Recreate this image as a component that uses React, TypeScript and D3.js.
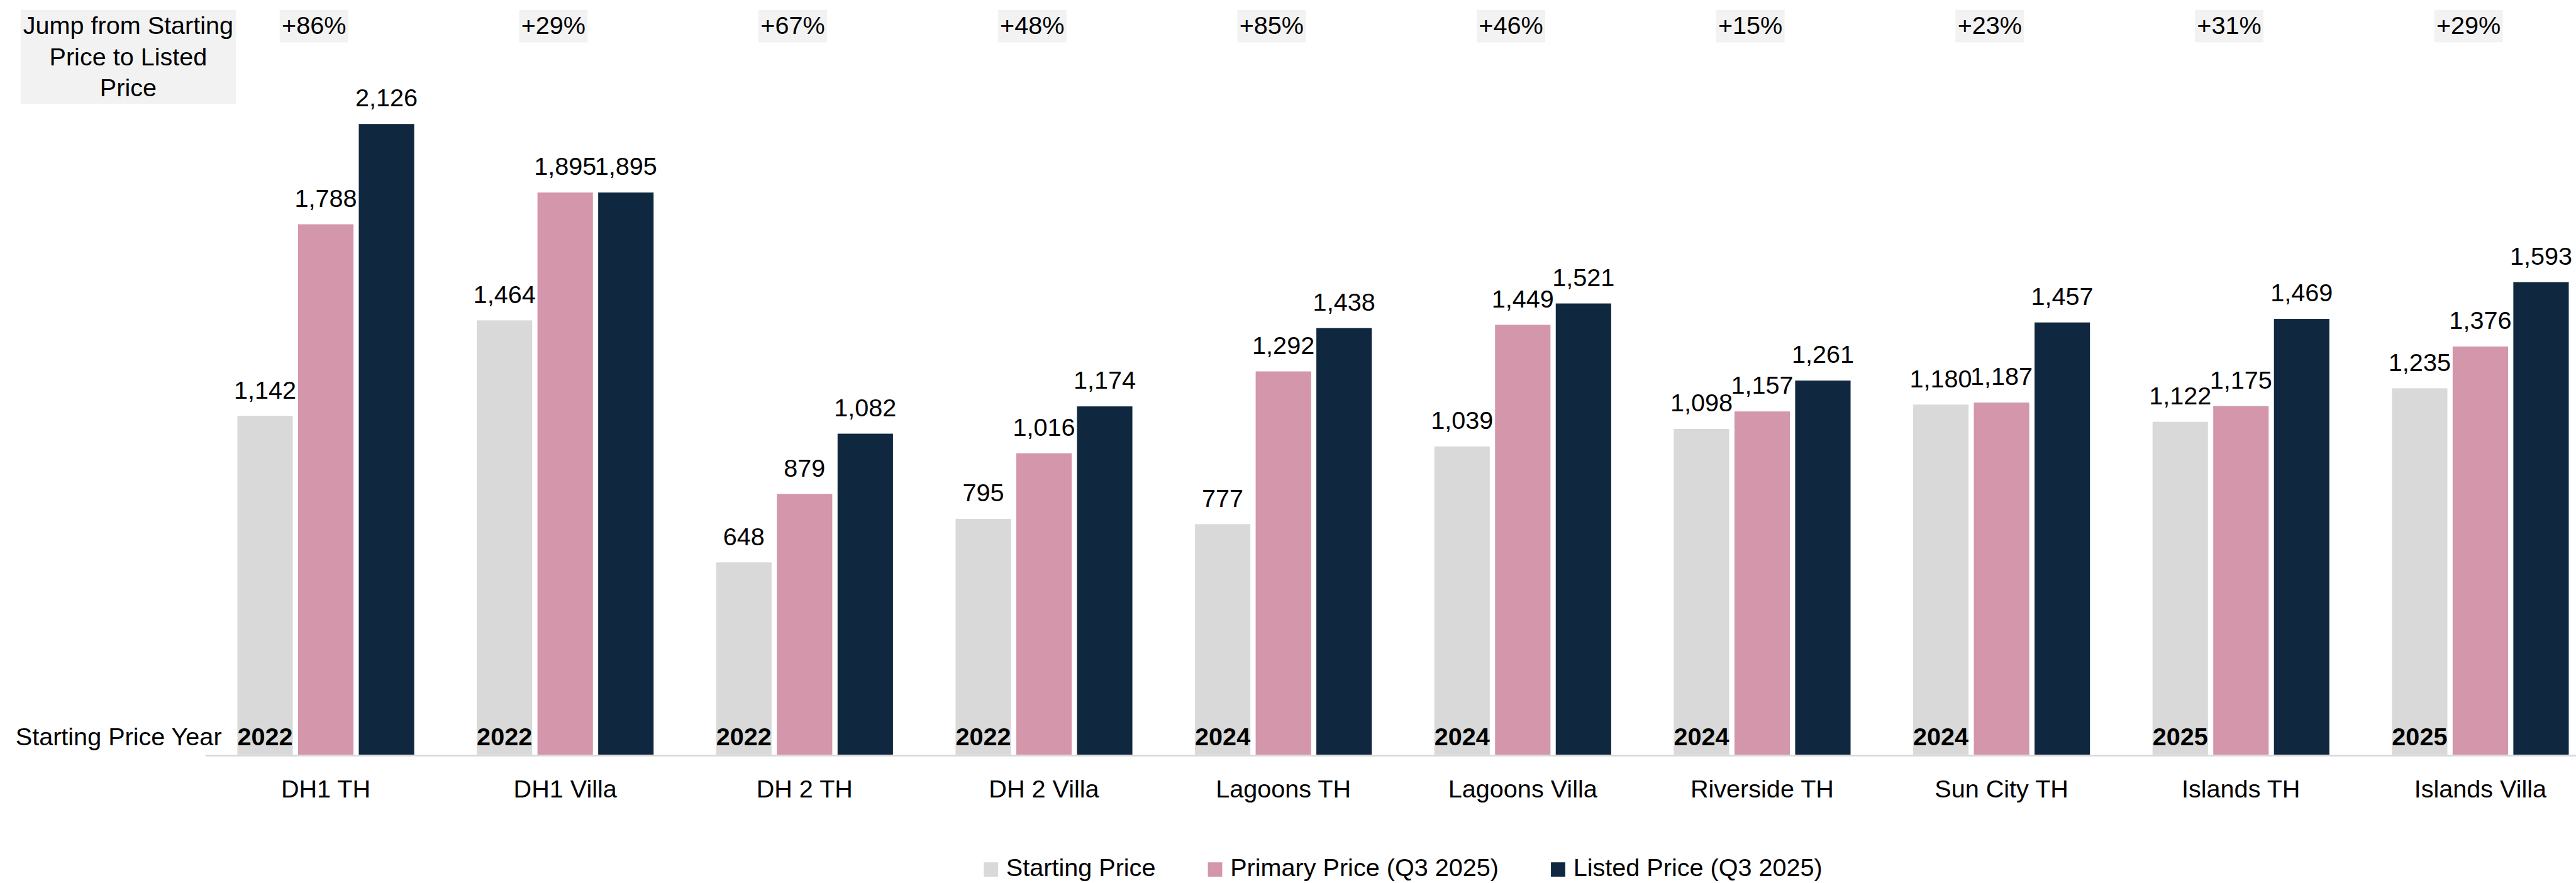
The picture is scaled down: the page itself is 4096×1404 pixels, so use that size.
import React, { useEffect, useRef } from "react";
import * as d3 from "d3";

const categories = [
  "DH1 TH",
  "DH1 Villa",
  "DH 2 TH",
  "DH 2 Villa",
  "Lagoons TH",
  "Lagoons Villa",
  "Riverside TH",
  "Sun City TH",
  "Islands TH",
  "Islands Villa",
];
const startingPrice = [1142, 1464, 648, 795, 777, 1039, 1098, 1180, 1122, 1235];
const primaryPrice = [1788, 1895, 879, 1016, 1292, 1449, 1157, 1187, 1175, 1376];
const listedPrice = [2126, 1895, 1082, 1174, 1438, 1521, 1261, 1457, 1469, 1593];
const startYears = ["2022", "2022", "2022", "2022", "2024", "2024", "2024", "2024", "2025", "2025"];
const jumpLabels = ["+86%", "+29%", "+67%", "+48%", "+85%", "+46%", "+15%", "+23%", "+31%", "+29%"];
const seriesNames = ["Starting Price", "Primary Price (Q3 2025)", "Listed Price (Q3 2025)"];
const seriesColors = ["#D9D9D9", "#D396AB", "#10283F"];
const jumpTitle = ["Jump from Starting", "Price to Listed", "Price"];
const yearTitle = "Starting Price Year";

const SCALE = 0.99;
const FONT = "'Liberation Sans', Arial, sans-serif";

export default function App() {
  const svgRef = useRef<SVGSVGElement | null>(null);

  useEffect(() => {
    const svg = d3.select(svgRef.current);
    svg.selectAll("*").remove();
    const g = svg
      .append("g")
      .attr("transform", `scale(${SCALE})`)
      .style("font-family", FONT)
      .style("font-size", "40px")
      .attr("fill", "#000");

    const plot = { left: 331, right: 4176, top: 21, bottom: 1212 };

    const x0 = d3
      .scaleBand<string>()
      .domain(categories)
      .range([plot.left, plot.right])
      .paddingInner(0.2614)
      .paddingOuter(0.1307);
    const x1 = d3
      .scaleBand<string>()
      .domain(seriesNames)
      .range([0, x0.bandwidth()])
      .paddingInner(0.087);
    const y = d3.scaleLinear().domain([0, 2500]).range([plot.bottom, plot.top]);

    const series = [startingPrice, primaryPrice, listedPrice];
    const rows = categories.flatMap((c, i) =>
      seriesNames.map((s, j) => ({ cat: c, name: s, value: series[j][i], color: seriesColors[j] }))
    );

    // axis line
    g.append("line")
      .attr("x1", plot.left - 1)
      .attr("x2", plot.right)
      .attr("y1", y(0) + 1.5)
      .attr("y2", y(0) + 1.5)
      .attr("stroke", "#D9D9D9")
      .attr("stroke-width", 3);

    // bars
    g.selectAll("rect.bar")
      .data(rows)
      .join("rect")
      .attr("class", "bar")
      .attr("x", (d) => x0(d.cat)! + x1(d.name)!)
      .attr("y", (d) => y(d.value))
      .attr("width", x1.bandwidth())
      .attr("height", (d) => y(0) - y(d.value))
      .attr("fill", (d) => d.color);

    // value labels
    g.selectAll("text.val")
      .data(rows)
      .join("text")
      .attr("class", "val")
      .attr("x", (d) => x0(d.cat)! + x1(d.name)! + x1.bandwidth() / 2)
      .attr("y", (d) => y(d.value) - 28)
      .attr("text-anchor", "middle")
      .text((d) => d3.format(",")(d.value));

    // starting year inside the grey bar
    g.selectAll("text.year")
      .data(categories)
      .join("text")
      .attr("class", "year")
      .attr("x", (d) => x0(d)! + x1(seriesNames[0])! + x1.bandwidth() / 2)
      .attr("y", 1197)
      .attr("text-anchor", "middle")
      .attr("font-weight", "bold")
      .text((d, i) => startYears[i]);

    g.append("text").attr("x", 25).attr("y", 1197).text(yearTitle);

    // category labels
    g.selectAll("text.cat")
      .data(categories)
      .join("text")
      .attr("class", "cat")
      .attr("x", (d) => x0(d)! + x0.bandwidth() / 2)
      .attr("y", 1281)
      .attr("text-anchor", "middle")
      .text((d) => d);

    // jump boxes
    const boxW = 110;
    const boxes = g
      .selectAll("g.jump")
      .data(categories)
      .join("g")
      .attr("class", "jump")
      .attr("transform", (d) => `translate(${x0(d)! + x0.bandwidth() / 2 - 19},0)`);
    boxes
      .append("rect")
      .attr("x", -boxW / 2)
      .attr("y", 16)
      .attr("width", boxW)
      .attr("height", 52)
      .attr("fill", "#F2F2F2");
    boxes
      .append("text")
      .attr("y", 55)
      .attr("text-anchor", "middle")
      .text((d, i) => jumpLabels[i]);

    g.append("rect")
      .attr("x", 33)
      .attr("y", 16)
      .attr("width", 346)
      .attr("height", 151)
      .attr("fill", "#F2F2F2");
    g.selectAll("text.title")
      .data(jumpTitle)
      .join("text")
      .attr("class", "title")
      .attr("x", 206)
      .attr("y", (d, i) => 55 + i * 50)
      .attr("text-anchor", "middle")
      .text((d) => d);

    // legend
    const legend = g.append("g");
    let cursor = 0;
    seriesNames.forEach((name, i) => {
      const item = legend.append("g").attr("transform", `translate(${cursor},0)`);
      item.append("rect").attr("x", 0).attr("y", 1385).attr("width", 23).attr("height", 23).attr("fill", seriesColors[i]);
      const t = item.append("text").attr("x", 36).attr("y", 1407).text(name);
      const w = (t.node() as SVGTextElement).getComputedTextLength();
      cursor += 36 + w + 84;
    });
    const legendW = cursor - 84;
    legend.attr("transform", `translate(${(plot.left + plot.right) / 2 - legendW / 2},0)`);
  }, []);

  return (
    <svg
      ref={svgRef}
      width={4096}
      height={1404}
      style={{ position: "absolute", left: 0, top: 0, background: "#fff", display: "block" }}
    ></svg>
  );
}
